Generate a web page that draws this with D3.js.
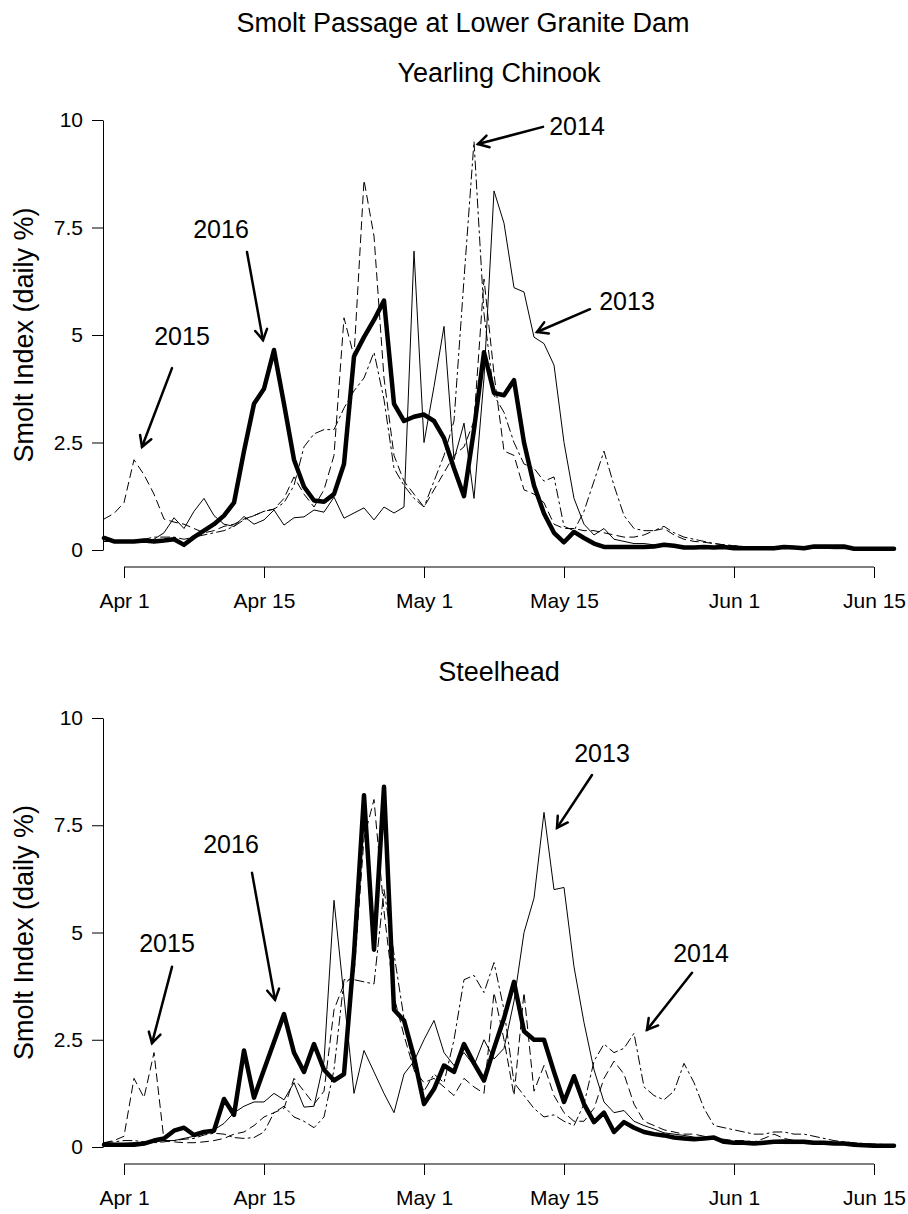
<!DOCTYPE html>
<html>
<head>
<meta charset="utf-8">
<script src="https://cdn.jsdelivr.net/npm/d3@7"></script>
<style>
  body { margin: 0; background: #fff; }
  svg text { font-family: "Liberation Sans", Arial, sans-serif; fill: #000; }
</style>
</head>
<body>
<svg id="chart" width="908" height="1214"></svg>
<script>
// daily series, Mar 30 .. Jun 17 (80 days)
const firstDay = new Date(Date.UTC(2016, 2, 30));
const days = d3.range(80).map(i => d3.utcDay.offset(firstDay, i));

// [month, day]
const tickDates = [[4, 1], [4, 15], [5, 1], [5, 15], [6, 1], [6, 15]].map(d => new Date(Date.UTC(2016, d[0] - 1, d[1])));
const tickLabels = ['Apr 1', 'Apr 15', 'May 1', 'May 15', 'Jun 1', 'Jun 15'];
const yTicks = [0, 2.5, 5, 7.5, 10];

// Yearling Chinook
const chinook2013 = [0.2,0.2,0.2,0.2,0.22,0.25,0.4,0.75,0.5,0.9,
    1.2,0.8,0.6,0.55,0.78,0.6,0.7,0.93,0.58,0.75,
    0.77,0.93,0.88,1.23,0.74,0.86,0.98,0.7,1.0,0.86,
    1.0,6.95,2.5,3.8,5.2,2.1,2.95,1.2,4.0,8.35,
    7.6,6.1,6.0,4.95,4.8,4.3,2.5,1.2,0.6,0.35,
    0.5,0.25,0.2,0.15,0.15,0.12,0.1,0.1,0.08,0.08,
    0.07,0.06,0.06,0.05,0.05,0.04,0.04,0.04,0.04,0.04,
    0.04,0.04,0.04,0.03,0.03,0.03,0.03,0.03,0.03,0.03];
const chinook2014 = [0.2,0.2,0.2,0.22,0.25,0.3,0.3,0.3,0.25,0.3,
    0.35,0.4,0.45,0.55,0.7,0.8,0.9,0.95,1.1,1.5,
    2.4,2.7,2.8,2.8,3.3,3.7,4.0,4.6,3.5,1.9,
    1.5,1.2,1.0,1.6,2.2,3.0,6.3,9.5,5.5,3.6,
    3.2,2.5,2.0,1.9,1.6,1.7,0.55,0.45,0.9,1.6,
    2.3,1.5,0.8,0.5,0.45,0.45,0.55,0.4,0.3,0.25,
    0.2,0.15,0.12,0.1,0.08,0.07,0.06,0.06,0.05,0.05,
    0.05,0.05,0.04,0.04,0.04,0.04,0.04,0.04,0.04,0.04];
const chinook2015 = [0.72,0.85,1.1,2.1,1.75,1.3,0.72,0.65,0.6,0.5,
    0.4,0.45,0.55,0.6,0.72,0.8,0.9,0.95,1.2,1.7,
    1.3,1.0,1.4,2.2,5.4,4.5,8.6,7.3,4.0,2.2,
    1.6,1.3,1.0,1.4,1.8,2.2,2.4,3.0,6.3,4.1,
    2.3,2.2,1.4,1.3,1.1,0.6,0.5,0.5,0.45,0.45,
    0.4,0.35,0.3,0.3,0.35,0.45,0.5,0.35,0.25,0.2,
    0.18,0.15,0.12,0.1,0.08,0.07,0.06,0.05,0.05,0.05,
    0.05,0.05,0.05,0.04,0.04,0.04,0.04,0.04,0.04,0.04];
const chinook2016 = [0.28,0.2,0.2,0.2,0.22,0.2,0.22,0.25,0.12,0.3,
    0.45,0.6,0.8,1.1,2.3,3.4,3.75,4.65,3.4,2.1,
    1.47,1.15,1.12,1.3,2.0,4.5,4.95,5.35,5.8,3.4,
    3.0,3.1,3.15,3.0,2.6,1.9,1.25,2.8,4.6,3.65,
    3.6,3.95,2.5,1.5,0.85,0.4,0.18,0.42,0.28,0.15,
    0.07,0.07,0.07,0.07,0.07,0.08,0.12,0.1,0.06,0.06,
    0.07,0.06,0.07,0.04,0.04,0.04,0.04,0.04,0.07,0.06,
    0.04,0.08,0.08,0.08,0.08,0.03,0.03,0.03,0.03,0.03];

// Steelhead
const steelhead2013 = [0.05,0.05,0.08,0.1,0.1,0.12,0.15,0.15,0.2,0.25,
    0.35,0.4,0.55,0.8,0.95,1.05,1.05,1.25,1.1,1.5,
    0.93,0.95,2.0,5.75,3.5,1.25,2.25,1.75,1.25,0.8,
    1.7,2.0,2.5,2.95,2.2,1.9,2.2,1.9,2.5,2.05,
    2.3,3.4,5.0,5.8,7.8,6.0,6.05,4.2,2.9,1.8,
    1.05,0.8,0.85,0.6,0.5,0.42,0.33,0.3,0.27,0.23,
    0.2,0.18,0.15,0.12,0.12,0.1,0.1,0.1,0.08,0.08,
    0.08,0.07,0.07,0.06,0.05,0.05,0.04,0.04,0.03,0.03];
const steelhead2014 = [0.1,0.12,0.15,0.15,0.12,0.1,0.12,0.15,0.18,0.2,
    0.28,0.32,0.3,0.22,0.2,0.22,0.35,0.8,0.95,0.7,
    0.6,0.45,0.7,1.8,3.9,3.9,3.85,3.8,6.0,4.5,
    3.0,1.8,1.3,1.7,1.5,2.5,3.9,4.0,3.6,4.3,
    3.2,1.5,1.2,0.9,0.7,0.75,0.6,0.5,1.0,2.0,
    2.4,2.2,2.3,2.65,1.4,1.2,1.1,1.3,1.95,1.5,
    0.9,0.5,0.45,0.4,0.35,0.3,0.3,0.35,0.35,0.3,
    0.3,0.25,0.2,0.15,0.12,0.1,0.08,0.07,0.06,0.05];
const steelhead2015 = [0.1,0.15,0.25,1.6,1.15,2.2,0.15,0.12,0.1,0.1,
    0.12,0.15,0.2,0.3,0.35,0.5,0.7,0.8,0.9,1.6,
    1.3,1.0,1.3,3.2,3.8,4.0,7.2,8.1,5.5,3.5,
    2.6,1.8,1.5,1.6,1.4,1.2,1.6,1.4,1.25,3.6,
    2.5,1.2,3.6,1.3,1.9,1.2,0.8,0.6,0.6,0.9,
    1.6,2.0,1.7,1.0,0.6,0.5,0.4,0.35,0.3,0.3,
    0.25,0.2,0.18,0.15,0.15,0.12,0.2,0.3,0.2,0.15,
    0.15,0.12,0.1,0.1,0.08,0.08,0.06,0.05,0.05,0.05];
const steelhead2016 = [0.05,0.05,0.05,0.05,0.08,0.15,0.2,0.38,0.45,0.28,
    0.35,0.38,1.12,0.75,2.25,1.15,1.8,2.45,3.1,2.2,
    1.75,2.4,1.8,1.55,1.7,4.5,8.2,4.6,8.4,3.2,
    2.95,2.1,1.0,1.35,1.9,1.75,2.4,1.95,1.55,2.3,
    3.0,3.85,2.7,2.5,2.5,1.75,1.05,1.65,1.0,0.58,
    0.8,0.35,0.58,0.45,0.35,0.3,0.27,0.22,0.2,0.18,
    0.2,0.22,0.12,0.1,0.1,0.08,0.1,0.12,0.13,0.12,
    0.12,0.1,0.1,0.08,0.08,0.05,0.04,0.03,0.03,0.03];

// year labels with arrows: label at (day index, value), arrow from -> to
const chinookNotes = [
    {year: '2014', tx: 47.3, ty: 9.65, from: [43.9, 9.84], to: [37.4, 9.44]},
    {year: '2013', tx: 52.3, ty: 5.58, from: [48.6, 5.6], to: [43.3, 5.07]},
    {year: '2016', tx: 11.7, ty: 7.26, from: [14.3, 6.93], to: [15.9, 4.88]},
    {year: '2015', tx: 7.8, ty: 4.77, from: [6.8, 4.23], to: [3.8, 2.4]}
];
const steelheadNotes = [
    {year: '2013', tx: 49.8, ty: 8.97, from: [48.8, 8.67], to: [45.3, 7.44]},
    {year: '2014', tx: 59.7, ty: 4.31, from: [58.8, 4.06], to: [54.3, 2.73]},
    {year: '2016', tx: 12.7, ty: 6.85, from: [14.8, 6.39], to: [17.1, 3.43]},
    {year: '2015', tx: 6.3, ty: 4.55, from: [6.8, 4.2], to: [4.8, 2.42]}
];

const lineStyles = {
    '2013': {width: 1, dash: null},
    '2014': {width: 1, dash: '9,4,2,4'},
    '2015': {width: 1, dash: '8,5'},
    '2016': {width: 4.5, dash: null}
};

const panels = [
    {title: 'Yearling Chinook', titleY: 82, y0: 550, y10: 120, notes: chinookNotes,
        series: {'2013': chinook2013, '2014': chinook2014, '2015': chinook2015, '2016': chinook2016}},
    {title: 'Steelhead', titleY: 681, y0: 1147, y10: 718, notes: steelheadNotes,
        series: {'2013': steelhead2013, '2014': steelhead2014, '2015': steelhead2015, '2016': steelhead2016}}
];

const svg = d3.select('#chart');

const xScale = d3.scaleUtc()
    .domain([days[0], days[days.length - 1]])
    .range([104, 894]);

const dayToDate = i => new Date(firstDay.getTime() + i * 86400000);

svg.append('text')
    .attr('x', 463)
    .attr('y', 32)
    .attr('text-anchor', 'middle')
    .style('font-size', '27px')
    .text('Smolt Passage at Lower Granite Dam');

const arrowHead = (x1, y1, x2, y2, len) => {
    const a = Math.atan2(y2 - y1, x2 - x1);
    const p1 = [x2 - len * Math.cos(a - Math.PI / 6), y2 - len * Math.sin(a - Math.PI / 6)];
    const p2 = [x2 - len * Math.cos(a + Math.PI / 6), y2 - len * Math.sin(a + Math.PI / 6)];
    return `M${p1[0]},${p1[1]}L${x2},${y2}L${p2[0]},${p2[1]}`;
};

panels.forEach(p => {
    const yScale = d3.scaleLinear()
        .domain([0, 10])
        .range([p.y0, p.y10]);

    const g = svg.append('g');

    g.append('text')
        .attr('x', 499)
        .attr('y', p.titleY)
        .attr('text-anchor', 'middle')
        .style('font-size', '27px')
        .text(p.title);

    // y axis
    g.append('g')
        .attr('transform', 'translate(103,0)')
        .call(d3.axisLeft(yScale).tickValues(yTicks).tickFormat(d3.format('~g'))
            .tickSize(11).tickSizeOuter(0).tickPadding(9))
        .call(ax => ax.selectAll('text').style('font-size', '21px'));

    // x axis, line only between first and last tick like R
    const axisY = p.y0 + 17;
    g.append('g')
        .attr('transform', `translate(0,${axisY})`)
        .call(d3.axisBottom(xScale).tickValues(tickDates).tickFormat((d, i) => tickLabels[i])
            .tickSize(11).tickPadding(15))
        .call(ax => ax.select('.domain').remove())
        .call(ax => ax.selectAll('text').style('font-size', '21px'));
    g.append('line')
        .attr('x1', xScale(tickDates[0]))
        .attr('x2', xScale(tickDates[tickDates.length - 1]))
        .attr('y1', axisY)
        .attr('y2', axisY)
        .attr('stroke', '#000');

    g.append('text')
        .attr('transform', `translate(33,${(p.y0 + p.y10) / 2}) rotate(-90)`)
        .attr('text-anchor', 'middle')
        .style('font-size', '27px')
        .text('Smolt Index (daily %)');

    const line = d3.line()
        .x((d, i) => xScale(days[i]))
        .y(d => yScale(d));

    ['2013', '2014', '2015', '2016'].forEach(yr => {
        const st = lineStyles[yr];
        g.append('path')
            .datum(p.series[yr])
            .attr('d', line)
            .attr('fill', 'none')
            .attr('stroke', '#000')
            .attr('stroke-width', st.width)
            .attr('stroke-dasharray', st.dash)
            .attr('stroke-linejoin', 'round')
            .attr('stroke-linecap', 'round');
    });

    p.notes.forEach(n => {
        g.append('text')
            .attr('x', xScale(dayToDate(n.tx)))
            .attr('y', yScale(n.ty))
            .attr('text-anchor', 'middle')
            .style('font-size', '25px')
            .text(n.year);
        const x1 = xScale(dayToDate(n.from[0])), y1 = yScale(n.from[1]);
        const x2 = xScale(dayToDate(n.to[0])), y2 = yScale(n.to[1]);
        g.append('line')
            .attr('x1', x1).attr('y1', y1)
            .attr('x2', x2).attr('y2', y2)
            .attr('stroke', '#000')
            .attr('stroke-width', 2.5)
            .attr('stroke-linecap', 'round');
        g.append('path')
            .attr('d', arrowHead(x1, y1, x2, y2, 12))
            .attr('fill', 'none')
            .attr('stroke', '#000')
            .attr('stroke-width', 2.5)
            .attr('stroke-linecap', 'round')
            .attr('stroke-linejoin', 'miter');
    });
});
</script>
</body>
</html>
